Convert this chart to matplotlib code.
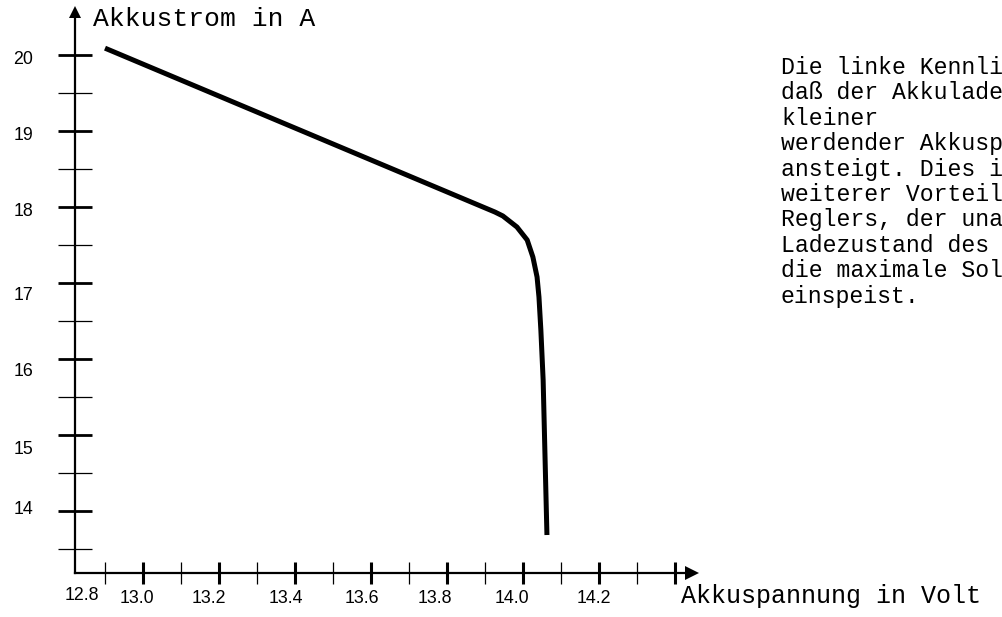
import matplotlib
matplotlib.use("Agg")
import matplotlib.pyplot as plt
from matplotlib.ticker import FixedLocator, NullFormatter
from matplotlib.transforms import ScaledTranslation

# ---- data ----
spannung = [12.90, 13.926, 13.947, 13.984, 14.011, 14.026, 14.037, 14.042, 14.047, 14.053, 14.063]
strom    = [20.09, 17.934, 17.882, 17.737, 17.566, 17.342, 17.079, 16.816, 16.382, 15.724, 13.684]

x_major = [13.0, 13.2, 13.4, 13.6, 13.8, 14.0, 14.2, 14.4]
x_major_labels = ["13.0", "13.2", "13.4", "13.6", "13.8", "14.0", "14.2", ""]
x_minor = [12.9, 13.1, 13.3, 13.5, 13.7, 13.9, 14.1, 14.3]
x_origin_label = "12.8"
y_major = [14, 15, 16, 17, 18, 19, 20]
y_major_labels = ["14", "15", "16", "17", "18", "19", "20"]
y_minor = [13.5, 14.5, 15.5, 16.5, 17.5, 18.5, 19.5]

x_label = "Akkuspannung in Volt"
y_label = "Akkustrom in A"
text_lines = [
    "Die linke Kennlinie zeigt,",
    "daß der Akkuladestrom bei",
    "kleiner",
    "werdender Akkuspannung",
    "ansteigt. Dies ist ein",
    "weiterer Vorteil des",
    "Reglers, der unabhängig",
    "Ladezustand des Akkus",
    "die maximale Solarleistung",
    "einspeist.",
]

# label placement quirks of the original drawing (pixels)
x_label_shift = [-6, -10, -9, -9, -12, -11, -5, 0]
y_label_shift = [3, -12, -11, -10, -3, -2, -3]

W, H = 1002, 617
fig = plt.figure(figsize=(W / 100, H / 100), dpi=100)

ax_l, ax_r, ax_b, ax_t = 75, 692, 573, 12
ax = fig.add_axes([ax_l / W, (H - ax_b) / H, (ax_r - ax_l) / W, (ax_b - ax_t) / H])
ax.patch.set_visible(False)

px_per_v = 380.0
px_per_a = 76.0
x0 = 13.0 - (143 - ax_l) / px_per_v
ax.set_xlim(x0, x0 + (ax_r - ax_l) / px_per_v)
y0 = 20 - (ax_b - 55) / px_per_a
ax.set_ylim(y0, y0 + (ax_b - ax_t) / px_per_a)

for s in ["top", "right"]:
    ax.spines[s].set_visible(False)
for s in ["left", "bottom"]:
    ax.spines[s].set_linewidth(1.6)

ax.xaxis.set_major_locator(FixedLocator(x_major))
ax.set_xticklabels(x_major_labels)
ax.xaxis.set_minor_locator(FixedLocator(x_minor))
ax.xaxis.set_minor_formatter(NullFormatter())
ax.yaxis.set_major_locator(FixedLocator(y_major))
ax.set_yticklabels(y_major_labels)
ax.yaxis.set_minor_locator(FixedLocator(y_minor))
ax.yaxis.set_minor_formatter(NullFormatter())

lab_size = 12.8
ax.tick_params(axis="x", which="major", direction="inout", length=16, width=2.2, pad=4,
               labelsize=lab_size)
ax.tick_params(axis="x", which="minor", direction="inout", length=16, width=0.9)
ax.tick_params(axis="y", which="major", direction="inout", length=24, width=2.0, pad=18,
               labelsize=lab_size)
ax.tick_params(axis="y", which="minor", direction="inout", length=24, width=0.9)
for lab in ax.get_xticklabels() + ax.get_yticklabels():
    lab.set_fontfamily("Liberation Sans")
for lab, dx in zip(ax.get_xticklabels(), x_label_shift):
    lab.set_transform(lab.get_transform() + ScaledTranslation(dx / 100, 0, fig.dpi_scale_trans))
for lab, dy in zip(ax.get_yticklabels(), y_label_shift):
    lab.set_transform(lab.get_transform() + ScaledTranslation(0, dy / 100, fig.dpi_scale_trans))

# arrow heads
ax.plot([1], [0], marker=">", markersize=10, color="black", transform=ax.transAxes,
        clip_on=False, markeredgewidth=0)
ax.plot([0], [1], marker="^", markersize=9, color="black", transform=ax.transAxes,
        clip_on=False, markeredgewidth=0)

# curve
ax.plot(spannung, strom, color="black", linewidth=3.6, solid_capstyle="butt",
        solid_joinstyle="round", clip_on=False)

fig.text(82 / W, 1 - 595 / H, x_origin_label, fontsize=lab_size, family="Liberation Sans",
         ha="center", va="center")

fig.text(93 / W, 1 - 19 / H, y_label, fontsize=19, family="Liberation Mono",
         ha="left", va="center")
fig.text(681 / W, 1 - 596 / H, x_label, fontsize=18, family="Liberation Mono",
         ha="left", va="center")

# paragraph, one line at a time (baseline spacing of the original)
first_baseline, line_step = 74, 25.4
for i, line in enumerate(text_lines):
    fig.text(781 / W, 1 - (first_baseline + line_step * i) / H, line, fontsize=16.7,
             family="Liberation Mono", ha="left", va="baseline")

fig.savefig("out.png", dpi=100)
